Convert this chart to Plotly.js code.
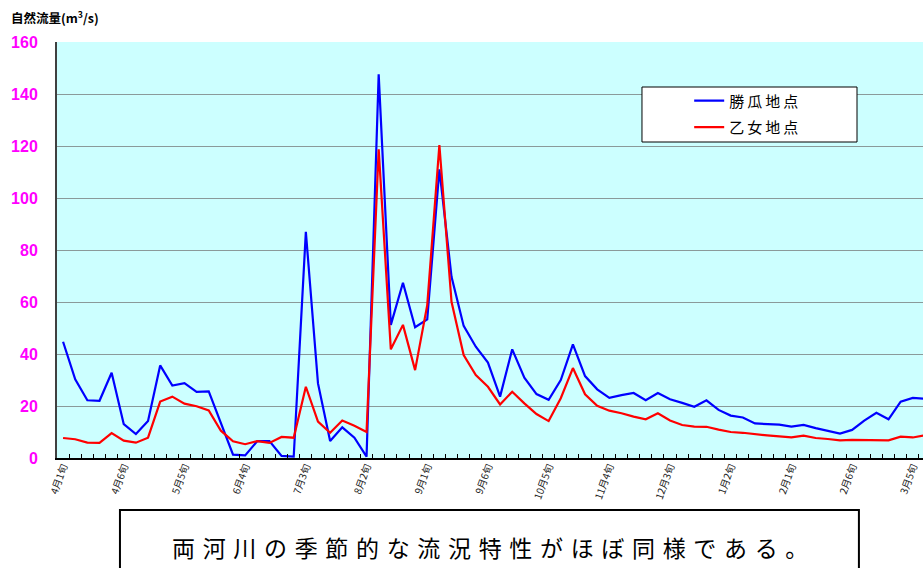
<!DOCTYPE html>
<html><head><meta charset="utf-8">
<script src="https://cdn.plot.ly/plotly-3.0.1.min.js"></script>
<style>html,body{margin:0;padding:0;background:#fff}#c{width:923px;height:568px}</style>
</head><body><div id="c"></div>
<script>
const katsuri = [44.7,30.3,22.2,22.0,32.8,13.0,9.2,14.2,35.6,27.9,28.8,25.4,25.6,13.5,1.3,1.0,6.5,6.5,0.8,0.5,
  87.0,28.7,6.5,11.8,7.8,0.5,147.6,51.2,67.4,50.3,53.3,111.0,69.7,50.8,42.8,36.7,23.6,41.8,30.9,24.6,
  22.4,30.0,43.7,31.5,26.4,23.1,24.2,25.0,22.2,25.0,22.6,21.2,19.7,22.2,18.5,16.3,15.6,13.3,13.0,12.8,
  12.1,12.7,11.5,10.5,9.4,10.8,14.4,17.4,14.9,21.7,23.1,22.8];
const otome = [7.7,7.2,5.9,5.8,9.6,6.7,5.9,7.8,21.7,23.6,20.9,19.9,18.3,10.5,6.4,5.3,6.5,5.8,8.1,7.8,
  27.4,14.0,9.7,14.4,12.4,10.0,118.7,41.8,51.2,33.8,58.8,120.4,60.1,39.6,31.9,27.4,20.6,25.5,21.0,16.9,
  14.2,23.0,34.6,24.5,20.1,18.2,17.2,15.9,14.9,17.2,14.4,12.7,12.1,12.0,10.9,10.0,9.7,9.1,8.7,8.3,
  7.9,8.6,7.7,7.3,6.8,7.0,6.9,6.8,6.8,8.2,7.9,8.7];
const months = ['4月','5月','6月','7月','8月','9月','10月','11月','12月','1月','2月','3月'];
const periods = [];
months.forEach(m => { for (let k = 1; k <= 6; k++) periods.push(m + k + '旬'); });
const tickIdx = [0,5,10,15,20,25,30,35,40,45,50,55,60,65,70];
const tickLabels = tickIdx.map(i => periods[i]);
const seriesNames = ['勝\u2009瓜\u2009地\u2009点', '乙\u2009女\u2009地\u2009点'];
const yTitle = '自然流量(m<sup>3</sup>/s)';
const note = '両河川の季節的な流況特性がほぼ同様である。';

const xIdx = periods.map((_, i) => i);
const jp = '"Noto Sans CJK JP", "Noto Sans", sans-serif';
const traces = [
  {x: xIdx, y: katsuri, name: seriesNames[0], type: 'scatter', mode: 'lines', legendgroup: 'a',
   line: {color: '#0000ff', width: 2.2}, text: periods, hovertemplate: '%{text}: %{y}<extra></extra>'},
  {x: xIdx, y: otome, name: seriesNames[1], type: 'scatter', mode: 'lines', legendgroup: 'b',
   line: {color: '#ff0000', width: 2.2}, text: periods, hovertemplate: '%{text}: %{y}<extra></extra>'},
  {x: [0], y: [null], xaxis: 'x2', showlegend: false, hoverinfo: 'skip'}
];
const xr = [-0.5, 70.84];
const layout = {
  width: 923, height: 568,
  margin: {l: 57, r: 0, t: 42, b: 110},
  paper_bgcolor: '#ffffff', plot_bgcolor: '#ccffff',
  font: {family: jp, color: '#000'},
  showlegend: true,
  legend: {x: 0.73, y: 0.898, xanchor: 'left', yanchor: 'top', bgcolor: 'rgba(0,0,0,0)',
           borderwidth: 0, font: {size: 15, family: jp, color: '#000'}, tracegroupgap: 4},
  xaxis: {range: xr, tick0: 0.5, dtick: 1, ticks: 'inside', ticklen: 4, tickcolor: '#000',
          showticklabels: false, showgrid: false, zeroline: false,
          showline: true, linecolor: '#000', linewidth: 2},
  xaxis2: {range: xr, overlaying: 'x', anchor: 'y', side: 'bottom', tickmode: 'array',
           tickvals: tickIdx, ticktext: tickLabels, ticks: '', tickangle: -70,
           tickfont: {size: 10, family: jp, color: '#222'}, showgrid: false, zeroline: false,
           showline: false},
  yaxis: {range: [0, 160], dtick: 20, showgrid: true, gridcolor: '#8a9a9a', gridwidth: 1,
          zeroline: false, showline: true, linecolor: '#404040', linewidth: 2, ticks: '',
          ticklabelstandoff: 14,
          tickfont: {size: 16, family: 'Liberation Sans, Arial, sans-serif', color: '#ff00ff', weight: 'bold'}},
  shapes: [
    {type: 'rect', xref: 'paper', yref: 'paper', x0: 0.6755, x1: 0.9238, y0: 0.7596, y1: 0.8918,
     fillcolor: '#ffffff', line: {color: '#000', width: 1}, layer: 'above'},
    {type: 'rect', xref: 'paper', yref: 'paper', x0: 0.0727, x1: 0.926, y0: -0.30, y1: -0.125,
     fillcolor: 'rgba(0,0,0,0)', line: {color: '#000', width: 2}, layer: 'above'}
  ],
  annotations: [
    {text: yTitle, xref: 'paper', yref: 'paper', x: -0.055, y: 1.06, xanchor: 'left', yanchor: 'middle',
     showarrow: false, font: {size: 12.5, family: jp, color: '#000', weight: 'bold'}},
    {text: note.split('').join('\u2004'), xref: 'paper', yref: 'paper', x: 0.4995, y: -0.215,
     xanchor: 'center', yanchor: 'middle', showarrow: false,
     font: {size: 23, family: jp, color: '#000'}}
  ]
};
Plotly.newPlot('c', traces, layout, {displayModeBar: false, responsive: false});
</script></body></html>
